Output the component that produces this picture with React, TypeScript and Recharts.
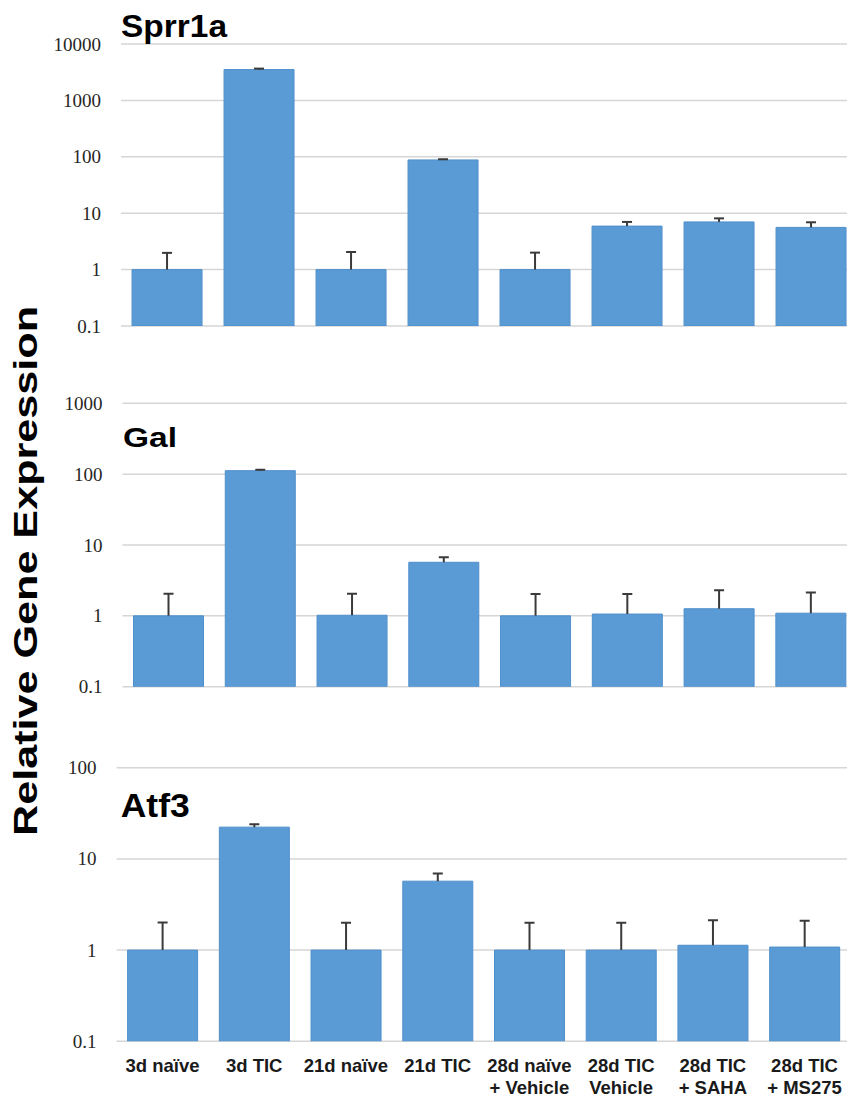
import { BarChart, Bar, XAxis, YAxis, CartesianGrid } from "recharts";

const groups = [
  "3d naïve",
  "3d TIC",
  "21d naïve",
  "21d TIC",
  "28d naïve\n+ Vehicle",
  "28d TIC\nVehicle",
  "28d TIC\n+ SAHA",
  "28d TIC\n+ MS275",
];

// mean relative expression and the upper end of the error bar
const sprr1aMean = [1, 3520, 1, 88, 1, 5.9, 7.0, 5.6];
const sprr1aHigh = [1.98, 3660, 2.05, 90.5, 2.0, 7.0, 8.1, 6.9];
const galMean = [1, 112, 1.02, 5.7, 1.0, 1.06, 1.26, 1.09];
const galHigh = [2.05, 115.5, 2.05, 6.7, 2.03, 2.03, 2.3, 2.14];
const atf3Mean = [1, 22.3, 1, 5.7, 1, 1, 1.13, 1.08];
const atf3High = [2.01, 24, 2.0, 6.9, 2.0, 2.0, 2.13, 2.1];

const sprr1aTicks = [0.1, 1, 10, 100, 1000, 10000];
const galTicks = [0.1, 1, 10, 100, 1000];
const atf3Ticks = [0.1, 1, 10, 100];

const BAR = "#5b9bd5";
const BAR_EDGE = "#4f8fcc";
const GRID = "#d6d6d6";

const build = (mean: number[], high: number[]) =>
  groups.map((name, i) => ({ name, mean: mean[i], err: Math.max(high[i] - mean[i], 0) }));

const ErrShape = (props: any) => {
  const { x, y, width, height } = props;
  if (x == null || y == null || !isFinite(y)) return null;
  const cx = x + width / 2;
  return (
    <g stroke="#3a3a3a" strokeWidth={2}>
      <line x1={cx} x2={cx} y1={y + height} y2={y} />
      <line x1={cx - 5} x2={cx + 5} y1={y} y2={y} />
    </g>
  );
};

const YTick = (props: any) => {
  const { x, y, payload } = props;
  return (
    <text
      x={x}
      y={y}
      textAnchor="end"
      dominantBaseline="central"
      fontFamily="'Liberation Serif', serif"
      fontSize={19}
      fill="#262626"
    >
      {String(payload.value)}
    </text>
  );
};

const XTick = (props: any) => {
  const { x, y, payload } = props;
  const lines = String(payload.value).split("\n");
  return (
    <g>
      {lines.map((l, i) => (
        <text
          key={i}
          x={x}
          y={y + 23.7 + i * 22.7}
          textAnchor="middle"
          dominantBaseline="central"
          fontFamily="'Liberation Sans', Arial, sans-serif"
          fontWeight="bold"
          fontSize={18.5}
          fill="#1a1a1a"
        >
          {l}
        </text>
      ))}
    </g>
  );
};

interface PanelProps {
  data: { name: string; mean: number; err: number }[];
  ticks: number[];
  top: number;
  height: number;
  margin: { top: number; right: number; bottom: number; left: number };
  axisWidth: number;
  showX?: boolean;
  xHeight?: number;
}

const Panel = ({ data, ticks, top, height, margin, axisWidth, showX, xHeight }: PanelProps) => (
  <div style={{ position: "absolute", left: 0, top }}>
    <BarChart width={860} height={height} data={data} margin={margin} barCategoryGap="12%">
      <CartesianGrid vertical={false} stroke={GRID} strokeWidth={1.5} />
      <XAxis
        dataKey="name"
        hide={!showX}
        height={xHeight}
        axisLine={false}
        tickLine={false}
        tickSize={0}
        tickMargin={0}
        interval={0}
        tick={<XTick />}
      />
      <YAxis
        scale="log"
        type="number"
        domain={[ticks[0], ticks[ticks.length - 1]]}
        ticks={ticks}
        allowDataOverflow
        width={axisWidth}
        axisLine={false}
        tickLine={false}
        tickSize={0}
        tickMargin={20}
        tick={<YTick />}
      />
      <Bar dataKey="mean" stackId="s" fill={BAR} stroke={BAR_EDGE} strokeWidth={1} isAnimationActive={false} />
      <Bar dataKey="err" stackId="s" fill="none" shape={<ErrShape />} isAnimationActive={false} />
    </BarChart>
  </div>
);

const titleStyle = {
  fontFamily: "'Liberation Sans', Arial, sans-serif",
  fontWeight: "bold" as const,
  fill: "#000",
};

export default function App() {
  return (
    <div
      style={{
        position: "absolute",
        left: 0,
        top: 0,
        width: 847,
        height: 1098,
        overflow: "hidden",
        background: "#fff",
      }}
    >
      <Panel
        data={build(sprr1aMean, sprr1aHigh)}
        ticks={sprr1aTicks}
        top={0}
        height={340}
        margin={{ top: 44, right: 3, bottom: 14, left: 0 }}
        axisWidth={121}
      />
      <Panel
        data={build(galMean, galHigh)}
        ticks={galTicks}
        top={340}
        height={360}
        margin={{ top: 63.3, right: 3.4, bottom: 13.3, left: 0 }}
        axisWidth={122.5}
      />
      <Panel
        data={build(atf3Mean, atf3High)}
        ticks={atf3Ticks}
        top={700}
        height={398}
        margin={{ top: 67.7, right: 9.6, bottom: 0, left: 0 }}
        axisWidth={116.6}
        showX
        xHeight={56.7}
      />
      <svg width={847} height={1098} style={{ position: "absolute", left: 0, top: 0, pointerEvents: "none" }}>
        <text x={121} y={37} fontSize={31} textLength={106} lengthAdjust="spacingAndGlyphs" {...titleStyle}>
          Sprr1a
        </text>
        <text x={123} y={447} fontSize={27} textLength={54} lengthAdjust="spacingAndGlyphs" {...titleStyle}>
          Gal
        </text>
        <text x={120.7} y={817} fontSize={34} textLength={69} lengthAdjust="spacingAndGlyphs" {...titleStyle}>
          Atf3
        </text>
        <text
          transform="translate(37,571) rotate(-90)"
          textAnchor="middle"
          fontSize={33}
          textLength={530}
          lengthAdjust="spacingAndGlyphs"
          {...titleStyle}
        >
          Relative Gene Expression
        </text>
      </svg>
    </div>
  );
}
